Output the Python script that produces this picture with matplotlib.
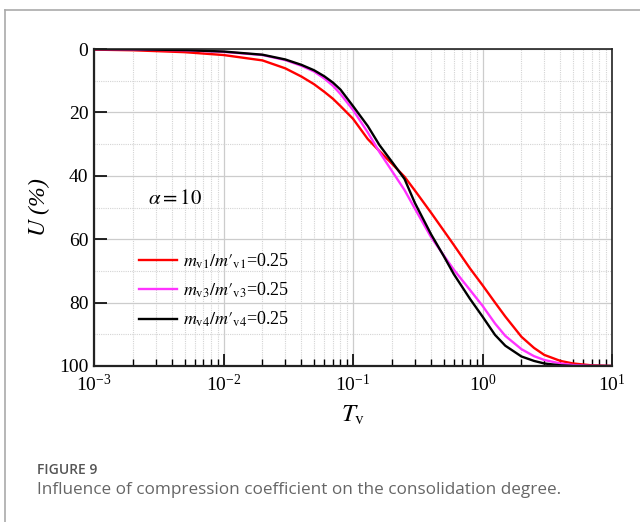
import numpy as np
import matplotlib
matplotlib.use("Agg")
import matplotlib.pyplot as plt
from matplotlib.lines import Line2D
from matplotlib.ticker import LogLocator, MultipleLocator

plt.rcParams["font.family"] = ["Liberation Serif", "DejaVu Serif"]
plt.rcParams["mathtext.fontset"] = "stix"

# time factor Tv and degree of consolidation U (%)
tv = [0.001, 0.002, 0.005, 0.01, 0.02, 0.03, 0.04, 0.05, 0.06, 0.07, 0.08,
      0.1, 0.13, 0.16, 0.2, 0.25, 0.3, 0.4, 0.5, 0.6, 0.8, 1.0, 1.25, 1.5,
      2, 2.5, 3, 4, 5, 7, 10]

u_v1 = [0.2, 0.4, 1.0, 1.9, 3.6, 6.1, 8.7, 11.1, 13.5, 15.7, 18.0,
        22.0, 28.4, 32.2, 36.2, 40.3, 44.6, 51.6, 57.2, 61.8, 69.2, 74.5, 80.0, 84.4,
        90.8, 94.3, 96.5, 98.4, 99.2, 99.8, 100.0]
u_v3 = [0.05, 0.15, 0.4, 0.9, 1.9, 3.5, 5.3, 7.1, 9.3, 11.6, 14.2,
        19.2, 26.3, 32.5, 38.5, 44.5, 50.3, 59.3, 65.0, 69.6, 76.0, 81.0, 86.6, 90.5,
        94.7, 96.9, 98.1, 99.2, 99.7, 99.95, 100.0]
u_v4 = [0.05, 0.1, 0.35, 0.8, 1.8, 3.3, 5.0, 6.7, 8.6, 10.6, 12.8,
        18.0, 24.3, 30.3, 35.6, 41.0, 48.5, 58.4, 65.2, 71.0, 78.8, 84.4, 90.2, 93.6,
        97.0, 98.4, 99.2, 99.8, 100.0, 100.0, 100.0]

series = [
    (u_v1, "red", r"$m_{\mathrm{v1}}/m{\prime}_{\mathrm{v1}}$=0.25"),
    (u_v3, "#ff33ff", r"$m_{\mathrm{v3}}/m{\prime}_{\mathrm{v3}}$=0.25"),
    (u_v4, "black", r"$m_{\mathrm{v4}}/m{\prime}_{\mathrm{v4}}$=0.25"),
]

fig = plt.figure(figsize=(6.4, 5.22), dpi=100)
ax = fig.add_axes([94 / 640, 1 - 366 / 522, (612 - 94) / 640, (366 - 49) / 522])

for u, c, lab in series:
    ax.plot(tv, u, color=c, lw=1.7, label=lab)

ax.set_xscale("log")
ax.set_xlim(1e-3, 10)
ax.set_ylim(100, 0)
ax.xaxis.set_major_locator(LogLocator(base=10, numticks=10))
ax.xaxis.set_minor_locator(LogLocator(base=10, subs=np.arange(2, 10), numticks=10))
ax.yaxis.set_major_locator(MultipleLocator(20))
ax.yaxis.set_minor_locator(MultipleLocator(10))

ax.grid(True, which="major", color="#cccccc", lw=0.9, ls="-")
ax.grid(True, which="minor", color="#d4d4d4", lw=0.8, ls=(0, (1, 1)))
ax.set_axisbelow(True)

ax.tick_params(which="both", direction="in", top=False, right=False, labelsize=14)
ax.tick_params(axis="x", which="major", length=9, width=1.2, pad=6)
ax.tick_params(axis="x", which="minor", length=5, width=1.0)
ax.tick_params(axis="y", which="major", length=9, width=1.2, pad=4)
ax.tick_params(axis="y", which="minor", length=0)
for s in ax.spines.values():
    s.set_linewidth(1.2)
    s.set_color("#222222")
ax.spines["left"].set_linewidth(1.6)
ax.spines["bottom"].set_linewidth(1.6)

ax.set_xlabel(r"$T_{\mathrm{v}}$", fontsize=18, labelpad=6)
ax.set_ylabel(r"$U$ (%)", fontsize=17, labelpad=5, fontstyle="italic")

ax.text(0.0042, 47.5, r"$\alpha = 10$", fontsize=15, ha="center", va="center")

leg = ax.legend(loc="upper left", bbox_to_anchor=(0.073, 0.385), frameon=False,
                fontsize=13, handlelength=2.1, handletextpad=0.35,
                labelspacing=0.55, borderaxespad=0.0)

# caption area
fig.text(37 / 640, 1 - 470 / 522, "FIGURE 9", fontsize=10, color="#555555",
         family="Open Sans", fontweight="semibold", va="center")
fig.text(37 / 640, 1 - 490 / 522,
         "Influence of compression coefficient on the consolidation degree.",
         fontsize=12.3, color="#666666", family="Open Sans", va="center")

# page frame
fig.add_artist(Line2D([5 / 640, 1], [1 - 10 / 522, 1 - 10 / 522],
                      transform=fig.transFigure, color="#aaaaaa", lw=1.2))
fig.add_artist(Line2D([5 / 640, 5 / 640], [0, 1 - 10 / 522],
                      transform=fig.transFigure, color="#aaaaaa", lw=1.2))

fig.savefig("out.png", dpi=100)
